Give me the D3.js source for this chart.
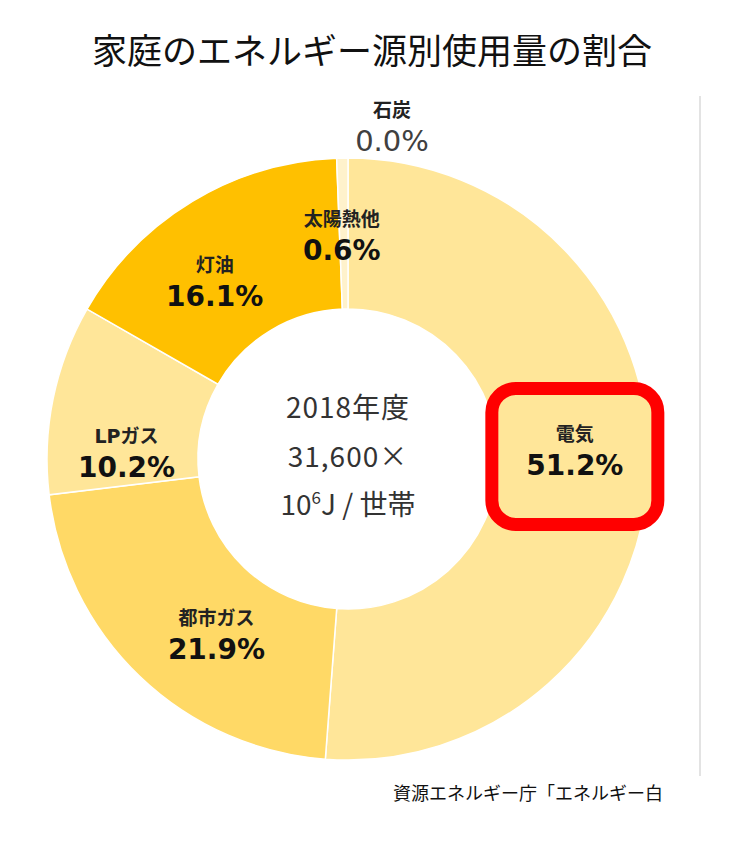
<!DOCTYPE html>
<html>
<head>
<meta charset="utf-8">
<script src="https://cdn.jsdelivr.net/npm/d3@7"></script>
<style>
  body { margin: 0; background: #fff; }
  svg { display: block; }
</style>
</head>
<body>
<div id="chart"></div>
<script>
// energy source shares, household, FY2018
var sources = ["電気", "都市ガス", "LPガス", "灯油", "太陽熱他", "石炭"];
var shares = [51.2, 21.9, 10.2, 16.1, 0.6, 0.0];
var shareLabels = ["51.2%", "21.9%", "10.2%", "16.1%", "0.6%", "0.0%"];
var sliceColors = ["#FFE699", "#FFD966", "#FFE699", "#FFC000", "#FFF2CC", "#BFBFBF"];
// label nudges away from the arc centroid
var nudges = [[2, -18], [24, 11], [-1, 37], [-17, 14], [-2, 0], [44, -109]];
var centerLines = ["2018年度", "31,600×"];

var width = 747, height = 847;
var cx = 348, cy = 459;
var outerR = 301, innerR = 150, labelR = 225;

var svg = d3.select("#chart").append("svg")
  .attr("width", width).attr("height", height);

// title
svg.append("text")
  .attr("x", 372).attr("y", 64)
  .attr("text-anchor", "middle")
  .style("font-family", "'Noto Sans CJK JP', sans-serif")
  .style("font-size", "35px")
  .attr("fill", "#111")
  .text("家庭のエネルギー源別使用量の割合");

// panel edge on the right
svg.append("line")
  .attr("x1", 700).attr("x2", 700).attr("y1", 96).attr("y2", 776)
  .attr("stroke", "#e3e3e3").attr("stroke-width", 2);

var data = sources.map(function(s, i) {
  return { name: s, value: shares[i], label: shareLabels[i], color: sliceColors[i], nudge: nudges[i] };
});

var pie = d3.pie().sort(null).value(function(d) { return d.value; });
var arc = d3.arc().innerRadius(innerR).outerRadius(outerR);
var labelArc = d3.arc().innerRadius(labelR).outerRadius(labelR);

var g = svg.append("g").attr("transform", "translate(" + cx + "," + cy + ")");
var arcs = pie(data);

g.selectAll("path.slice")
  .data(arcs.filter(function(d) { return d.data.value > 0; }))
  .enter().append("path")
  .attr("class", "slice")
  .attr("d", arc)
  .attr("fill", function(d) { return d.data.color; })
  .attr("stroke", "#fff")
  .attr("stroke-width", 1.5);

// highlight box round the electricity label
var elec = labelArc.centroid(arcs[0]);
var ex = elec[0] + arcs[0].data.nudge[0], ey = elec[1] + arcs[0].data.nudge[1];
g.append("rect")
  .attr("x", ex - 83).attr("y", ey + 7 - 68)
  .attr("width", 166).attr("height", 136)
  .attr("rx", 24).attr("ry", 24)
  .attr("fill", "#FFE699")
  .attr("stroke", "#FF0000").attr("stroke-width", 13);

var labels = g.selectAll("g.lbl")
  .data(arcs)
  .enter().append("g")
  .attr("class", "lbl")
  .attr("transform", function(d) {
    var c = labelArc.centroid(d);
    return "translate(" + (c[0] + d.data.nudge[0]) + "," + (c[1] + d.data.nudge[1]) + ")";
  });

labels.append("text")
  .attr("y", -8)
  .attr("text-anchor", "middle")
  .style("font-family", "'DejaVu Sans', 'Noto Sans CJK JP', sans-serif")
  .style("font-weight", 700)
  .style("font-size", "19px")
  .attr("fill", "#222")
  .text(function(d) { return d.data.name; });

labels.append("text")
  .attr("y", 26)
  .attr("text-anchor", "middle")
  .style("font-family", "'DejaVu Sans', sans-serif")
  .style("font-weight", function(d) { return d.data.value > 0 ? 700 : 400; })
  .style("font-size", function(d) { return d.data.value > 0 ? "28px" : "29px"; })
  .attr("fill", function(d) { return d.data.value > 0 ? "#111" : "#404040"; })
  .text(function(d) { return d.data.label; });

// centre note
var note = g.append("g")
  .style("font-family", "'Noto Sans CJK JP', sans-serif")
  .style("font-size", "28px")
  .attr("fill", "#333")
  .attr("text-anchor", "middle");

note.selectAll("text.cl")
  .data(centerLines)
  .enter().append("text")
  .attr("class", "cl")
  .attr("x", 0)
  .attr("y", function(d, i) { return -41 + i * 49; })
  .style("letter-spacing", "1px")
  .text(function(d) { return d; });

var unit = note.append("text").attr("x", 0).attr("y", 56);
unit.append("tspan").text("10");
unit.append("tspan").attr("dy", -11).style("font-size", "17px").text("6");
unit.append("tspan").attr("dy", 11).text("J / 世帯");

// source
svg.append("text")
  .attr("x", 393).attr("y", 800)
  .style("font-family", "'Noto Sans CJK JP', sans-serif")
  .style("font-size", "18px")
  .attr("fill", "#111")
  .text("資源エネルギー庁「エネルギー白");
</script>
</body>
</html>
